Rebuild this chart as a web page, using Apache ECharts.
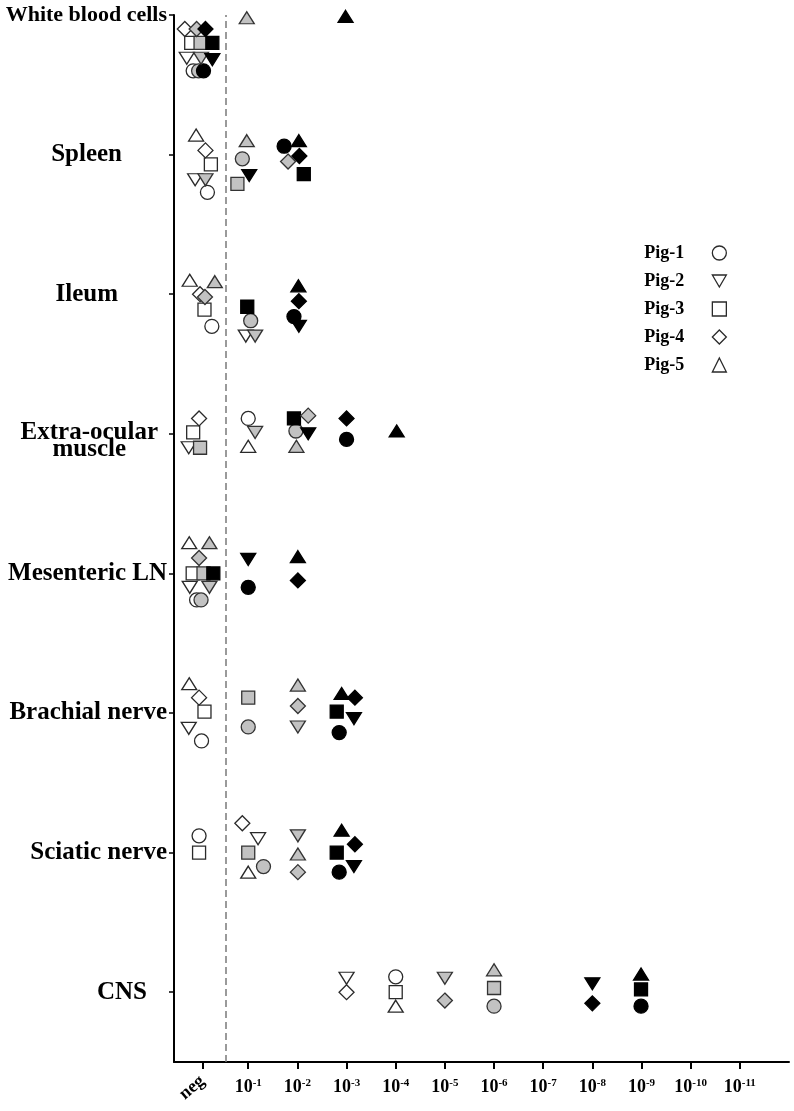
<!DOCTYPE html>
<html>
<head>
<meta charset="utf-8">
<script src="https://cdn.jsdelivr.net/npm/echarts@6/dist/echarts.min.js"></script>
<style>
html,body{margin:0;padding:0;background:#fff;}
#chart{width:794px;height:1111px;}
</style>
</head>
<body>
<div id="chart"></div>
<script>
// tissues, bottom (0) to top (7)
var tissues = ['CNS', 'Sciatic nerve', 'Brachial nerve', 'Mesenteric LN', 'Extra-ocular\nmuscle', 'Ileum', 'Spleen', 'White blood cells'];
var tissueTicks = [0, 1, 2, 3, 4, 5, 6, 7];
// x: 0 = neg, k = 10^-k
var dilutionTicks = [0.07, 1, 2, 3, 4, 5, 6, 7, 8, 9, 10, 11];
var dilutionExp = [1, 2, 3, 4, 5, 6, 7, 8, 9, 10, 11];
var cutoff = 0.55;
var pigNames = ['Pig-1', 'Pig-2', 'Pig-3', 'Pig-4', 'Pig-5'];

// [dilution, tissue position, sample group (0 white, 1 gray, 2 black)]
var pig1 = [
  [-0.12, 6.60, 0], [-0.01, 6.60, 1], [0.09, 6.60, 2],
  [0.17, 5.73, 0], [0.88, 5.97, 1], [1.73, 6.06, 2],
  [0.26, 4.77, 0], [1.05, 4.81, 1], [1.93, 4.84, 2],
  [1.00, 4.11, 0], [1.97, 4.02, 1], [3.00, 3.96, 2],
  [-0.05, 2.81, 0], [0.04, 2.81, 1], [1.00, 2.90, 2],
  [0.05, 1.80, 0], [1.00, 1.90, 1], [2.85, 1.86, 2],
  [0.00, 1.12, 0], [1.31, 0.90, 1], [2.85, 0.86, 2],
  [4.00, 0.11, 0], [6.00, -0.10, 1], [8.99, -0.10, 2]
];
var pig2 = [
  [-0.25, 6.69, 0], [0.04, 6.69, 1], [0.27, 6.68, 2],
  [-0.08, 5.82, 0], [0.13, 5.82, 1], [1.02, 5.85, 2],
  [0.95, 4.70, 0], [1.14, 4.70, 1], [2.03, 4.77, 2],
  [-0.21, 3.90, 0], [1.14, 4.01, 1], [2.22, 4.00, 2],
  [-0.19, 2.90, 0], [0.21, 2.90, 1], [1.00, 3.10, 2],
  [-0.21, 1.89, 0], [2.01, 1.90, 1], [3.15, 1.96, 2],
  [1.20, 1.10, 0], [2.01, 1.12, 1], [3.15, 0.90, 2],
  [3.00, 0.10, 0], [5.00, 0.10, 1], [8.00, 0.06, 2]
];
var pig3 = [
  [-0.16, 6.80, 0], [0.03, 6.80, 1], [0.27, 6.80, 2],
  [0.24, 5.93, 0], [0.78, 5.79, 1], [2.13, 5.86, 2],
  [0.11, 4.89, 0], [0.98, 4.91, 2],
  [-0.12, 4.01, 0], [0.02, 3.90, 1], [1.93, 4.11, 2],
  [-0.13, 3.00, 0], [0.09, 3.00, 1], [0.29, 3.00, 2],
  [0.11, 2.01, 0], [1.00, 2.11, 1], [2.80, 2.01, 2],
  [0.00, 1.00, 0], [1.00, 1.00, 1], [2.80, 1.00, 2],
  [4.00, 0.00, 0], [6.00, 0.03, 1], [8.99, 0.02, 2]
];
var pig4 = [
  [-0.29, 6.90, 0], [-0.05, 6.90, 1], [0.13, 6.90, 2],
  [0.13, 6.03, 0], [1.81, 5.95, 1], [2.04, 5.99, 2],
  [0.02, 5.00, 0], [0.12, 4.98, 1], [2.03, 4.95, 2],
  [0.00, 4.11, 0], [2.22, 4.13, 1], [3.00, 4.11, 2],
  [0.00, 3.11, 1], [2.01, 2.95, 2],
  [0.00, 2.11, 0], [2.01, 2.05, 1], [3.17, 2.11, 2],
  [0.88, 1.21, 0], [2.01, 0.86, 1], [3.17, 1.06, 2],
  [3.00, 0.00, 0], [5.00, -0.06, 1], [8.00, -0.08, 2]
];
var pig5 = [
  [0.97, 6.98, 1], [2.98, 6.99, 2],
  [-0.06, 6.14, 0], [0.97, 6.10, 1], [2.03, 6.10, 2],
  [-0.19, 5.10, 0], [0.32, 5.09, 1], [2.02, 5.06, 2],
  [1.00, 3.91, 0], [1.98, 3.91, 1], [4.02, 4.02, 2],
  [-0.20, 3.22, 0], [0.21, 3.22, 1], [2.01, 3.12, 2],
  [-0.20, 2.21, 0], [2.01, 2.20, 1], [2.90, 2.14, 2],
  [1.00, 0.86, 0], [2.01, 0.99, 1], [2.90, 1.16, 2],
  [4.00, -0.10, 0], [6.00, 0.16, 1], [8.99, 0.13, 2]
];

var pigData = [pig1, pig2, pig3, pig4, pig5];
var pigSymbols = ['circle', 'triangle', 'rect', 'diamond', 'triangle'];
var pigRotate = [0, 180, 0, 0, 0];
var pigSize = [14, [15, 12], 13, 15, [15, 12]];
var fillColors = ['#ffffff', '#c2c2c2', '#000000'];
var edgeColors = ['#2a2a2a', '#333333', '#000000'];

var serif = 'Liberation Serif';
var labelPad = [20, 0, 0, 0, 9, 49, 45, 0];

var yRich = { e: { fontSize: 10, lineHeight: 14 } };
tissueTicks.forEach(function (i) {
  var base = {
    fontFamily: serif, fontWeight: 'bold', color: '#000',
    fontSize: i === 7 ? 22 : 25,
    padding: [0, labelPad[i], 0, 0]
  };
  if (i === 4) {
    base.lineHeight = 17;
    base.align = 'center';
    yRich['u' + i] = Object.assign({}, base);
  }
  yRich['t' + i] = base;
});

var chart = echarts.init(document.getElementById('chart'), null, { renderer: 'canvas' });

var series = pigData.map(function (pts, k) {
  var s = {
    name: pigNames[k],
    type: 'scatter',
    symbol: pigSymbols[k],
    symbolRotate: pigRotate[k],
    symbolSize: pigSize[k],
    itemStyle: { color: '#ffffff', borderColor: '#2a2a2a', borderWidth: 1.3, opacity: 1 },
    emphasis: { disabled: true },
    data: pts.map(function (p) {
      return {
        value: [p[0], p[1]],
        itemStyle: { color: fillColors[p[2]], borderColor: edgeColors[p[2]] }
      };
    })
  };
  if (k === 0) {
    s.markLine = {
      silent: true,
      symbol: 'none',
      label: { show: false },
      lineStyle: { color: '#7a7a7a', type: [7, 4], width: 1.5 },
      data: [{ xAxis: cutoff }],
      z: 1
    };
  }
  return s;
});

// legend icons; Pig-2 needs a downward triangle
var legendData = pigNames.map(function (n, k) {
  if (pigRotate[k] === 180) {
    return { name: n, icon: 'path://M0,0L14,0L7,12Z' };
  }
  return { name: n };
});

var option = {
  animation: false,
  backgroundColor: '#ffffff',
  grid: { left: 174, right: 5, top: 15, bottom: 49, outerBoundsMode: 'none', containLabel: false },
  legend: {
    orient: 'vertical',
    align: 'right',
    right: 67,
    top: 244,
    padding: 0,
    itemWidth: 14,
    itemHeight: 14,
    itemGap: 10,
    selectedMode: false,
    data: legendData,
    itemStyle: { color: '#ffffff', borderColor: '#2a2a2a', borderWidth: 1.3 },
    textStyle: {
      fontFamily: serif, fontWeight: 'bold', fontSize: 18, color: '#000',
      padding: [0, 23, 0, 0]
    }
  },
  xAxis: [{
    type: 'value',
    min: -0.51,
    max: 12,
    axisLine: { show: true, onZero: false, lineStyle: { color: '#000', width: 2 } },
    axisTick: { show: true, customValues: dilutionTicks, length: 7, lineStyle: { color: '#000', width: 2 } },
    splitLine: { show: false },
    axisLabel: {
      customValues: dilutionExp,
      margin: 16,
      formatter: function (v) { return '{n|10}{s|-' + Math.round(v) + '}'; },
      rich: {
        n: { fontFamily: serif, fontWeight: 'bold', fontSize: 18, color: '#000' },
        s: { fontFamily: serif, fontWeight: 'bold', fontSize: 11, color: '#000', verticalAlign: 'top' }
      }
    }
  }, {
    type: 'value',
    min: -0.51,
    max: 12,
    position: 'bottom',
    axisLine: { show: false, onZero: false },
    axisTick: { show: false },
    splitLine: { show: false },
    axisLabel: {
      customValues: [dilutionTicks[0]],
      rotate: 40,
      margin: 17,
      formatter: function () { return 'neg'; },
      fontFamily: serif, fontWeight: 'bold', fontSize: 18, color: '#000'
    }
  }],
  yAxis: {
    type: 'value',
    min: -0.5,
    max: 7,
    axisLine: { show: true, onZero: false, lineStyle: { color: '#000', width: 2 } },
    axisTick: { show: true, customValues: tissueTicks, length: 5, lineStyle: { color: '#000', width: 1.5 } },
    splitLine: { show: false },
    axisLabel: {
      customValues: tissueTicks,
      margin: 7,
      formatter: function (v) {
        var i = Math.round(v);
        var lines = tissues[i].split('\n');
        if (lines.length > 1) {
          return '{e| }\n{t' + i + '|' + lines[0] + '}\n{u' + i + '|' + lines[1] + '}';
        }
        return '{t' + i + '|' + lines[0] + '}';
      },
      rich: yRich
    }
  },
  series: series
};

chart.setOption(option);
</script>
</body>
</html>
